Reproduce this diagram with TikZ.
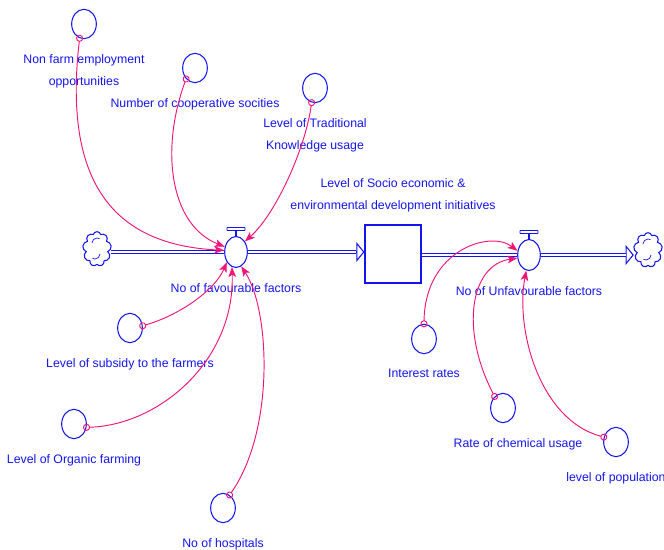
\documentclass[tikz,border=0pt]{standalone}
\usepackage{fontspec}
\setmainfont{Liberation Sans}
\usetikzlibrary{positioning,arrows.meta,shapes.geometric,shapes.symbols}
\definecolor{sdblue}{RGB}{20,20,240}
\definecolor{sdpink}{RGB}{240,20,120}
\tikzset{node distance=4.3mm,
  conv/.style={ellipse, draw=sdblue, line width=0.9pt, minimum width=7.4mm, minimum height=8.8mm, inner sep=0pt},
  valve/.style={ellipse, draw=sdblue, fill=white, line width=0.9pt, minimum width=6.8mm, minimum height=9.3mm, inner sep=0pt},
  handle/.style={rectangle, rounded corners=0.4pt, draw=sdblue, line width=0.8pt, minimum width=5.4mm, minimum height=0.9mm, inner sep=0pt},
  stockbox/.style={rectangle, draw=sdblue, line width=0.9pt, minimum width=16.8mm, minimum height=17.4mm},
  source/.style={cloud, cloud puffs=9, aspect=0.75, draw=sdblue, line width=0.9pt, minimum width=8.6mm, minimum height=10.4mm, inner sep=0pt},
  swirl/.style={draw=sdblue, line width=0.6pt},
  txt/.style={text=sdblue, font=\fontsize{10.5}{18.6}\selectfont, align=center, inner sep=0.5pt},
  pipe/.style={draw=sdblue, line width=0.9pt, double=white, double distance=2pt},
  pipeend/.style={pipe, shorten >=7pt},
  pipehead/.style={draw=sdblue, line width=0.9pt, -{Triangle[open, length=7pt, width=17pt]}},
  link/.style={draw=sdpink, line width=0.8pt, {Circle[open, length=6pt, width=6pt]}-{Stealth[length=8.5pt, width=6.5pt, inset=2pt]}, shorten <=-3pt}
}
\begin{document}
\begin{tikzpicture}[x=0.3mm, y=-0.3mm]
  \useasboundingbox (0,0) rectangle (664,550);

  \node[source] (src) at (97,249) {};
  \node[valve] (v1) at (236,252) {};
  \node[stockbox] (lvl) at (393,254) {};
  \node[valve] (v2) at (529,255) {};
  \node[source] (snk) at (648,250) {};

  \draw[swirl] ([shift={(-5,-6)}]src.center) arc (180:300:5) ([shift={(3,5)}]src.center) arc (0:120:5);
  \draw[swirl] ([shift={(-5,-6)}]snk.center) arc (180:300:5) ([shift={(3,5)}]snk.center) arc (0:120:5);

  \draw[sdblue, line width=0.9pt] (v1.north) -- ++(0,-5) node[handle, anchor=south] (v1h) {};
  \draw[sdblue, line width=0.9pt] (v2.north) -- ++(0,-5) node[handle, anchor=south] (v2h) {};

  \draw[pipe] (src.east |- v1) -- (v1.west);
  \draw[pipehead] (v1.east) -- (v1.east -| lvl.west);
  \draw[pipeend] (v1.east) -- (v1.east -| lvl.west);
  \draw[pipe] (lvl.east |- v2) -- (v2.west);
  \draw[pipehead] (v2.east) -- (v2.east -| snk.west);
  \draw[pipeend] (v2.east) -- (v2.east -| snk.west);

  \node[txt, below=of v1] (v1l) {No of favourable factors};
  \node[txt, below=of v2] (v2l) {No of Unfavourable factors};
  \node[txt, above=3.6mm of lvl] (lvll) {Level of Socio economic \&\\environmental development initiatives};

  \node[conv] (nfe) at (84,24) {};
  \node[conv] (coop) at (195,68) {};
  \node[conv] (trad) at (315,88) {};
  \node[conv] (sub) at (130,328) {};
  \node[conv] (org) at (74,424) {};
  \node[conv] (hosp) at (223,508) {};
  \node[conv] (rate) at (424,339) {};
  \node[conv] (chem) at (503,408) {};
  \node[conv] (pop) at (616,442) {};

  \node[txt, below=of nfe] (nfel) {Non farm employment\\opportunities};
  \node[txt, below=of coop] (coopl) {Number of cooperative socities};
  \node[txt, below=of trad] (tradl) {Level of Traditional\\Knowledge usage};
  \node[txt, below=of sub] (subl) {Level of subsidy to the farmers};
  \node[txt, below=of org] (orgl) {Level of Organic farming};
  \node[txt, below=of hosp] (hospl) {No of hospitals};
  \node[txt, below=of rate] (ratel) {Interest rates};
  \node[txt, below=of chem, xshift=4.5mm] (cheml) {Rate of chemical usage};
  \node[txt, below=of pop] (popl) {level of population};

  \draw[link] (nfe.253) .. controls (62,190) and (120,245) .. (v1.172);
  \draw[link] (coop.231) .. controls (160,150) and (170,225) .. (v1.155);
  \draw[link] (trad.257) .. controls (305,150) and (275,215) .. (v1.50);
  \draw[link] (sub.10) .. controls (180,315) and (215,290) .. (v1.228);
  \draw[link] (org.345) .. controls (160,425) and (235,360) .. (v1.255);
  \draw[link] (hosp.63) .. controls (275,430) and (270,310) .. (v1.290);
  \draw[link] (rate.90) .. controls (425,250) and (490,230) .. (v2.160);
  \draw[link] (chem.126) .. controls (460,330) and (470,265) .. (v2.195);
  \draw[link] (pop.158) .. controls (540,420) and (515,330) .. (v2.260);

\end{tikzpicture}
\end{document}
